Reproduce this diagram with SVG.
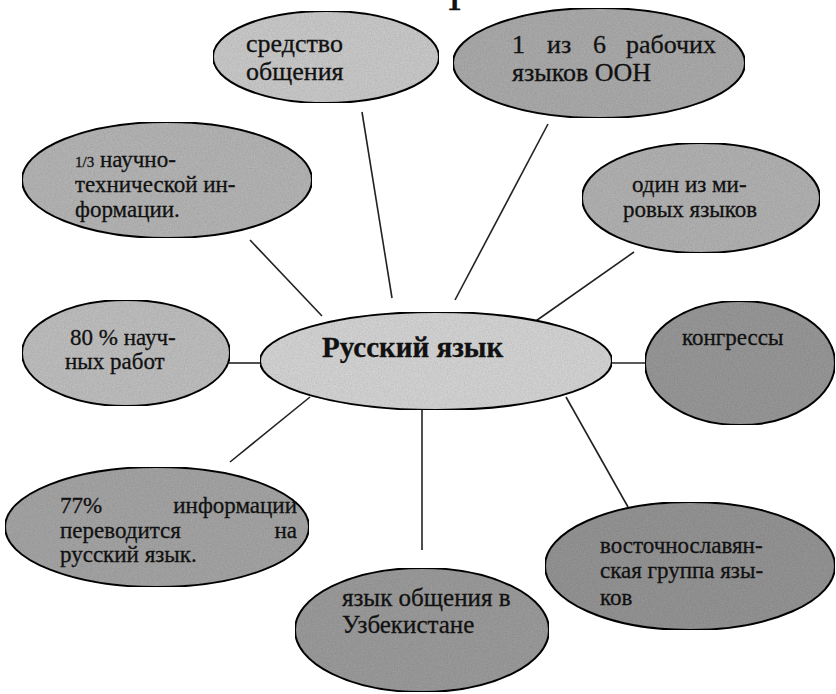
<svg xmlns="http://www.w3.org/2000/svg" width="836" height="694" viewBox="0 0 836 694">
<style>
  .bg { fill: #ffffff; }
  .node ellipse { stroke: #111; stroke-width: 2; }
  .t { font-family: 'Liberation Serif', 'DejaVu Serif', serif; font-size: 23px; fill: #111; stroke: #111; stroke-width: 0.3; }
  .big { font-size: 26px; }
  .mid { font-size: 25px; }
  .small { font-size: 15px; }
  .main { font-size: 29px; font-weight: bold; }
  .conn line { stroke: #222; stroke-width: 1.6; }
</style>
<defs>
  <filter id="grain" x="0" y="0" width="1" height="1">
    <feTurbulence type="fractalNoise" baseFrequency="0.7" numOctaves="3" seed="4" result="n"/>
    <feColorMatrix in="n" type="matrix" values="0 0 0 0 0  0 0 0 0 0  0 0 0 0 0  0 0 0 0.3 -0.05" result="a"/>
    <feComposite in="a" in2="SourceGraphic" operator="in" result="d"/>
    <feMerge><feMergeNode in="SourceGraphic"/><feMergeNode in="d"/></feMerge>
  </filter>
</defs>
<rect class="bg" x="0" y="0" width="836" height="694"/>
<text class="t main" x="447" y="10">1</text>

<g id="connectors" class="conn">
  <line x1="362" y1="112" x2="392" y2="298"/>
  <line x1="548" y1="124" x2="455" y2="300"/>
  <line x1="250" y1="240" x2="322" y2="316"/>
  <line x1="634" y1="252" x2="533" y2="323"/>
  <line x1="229" y1="363" x2="261" y2="363"/>
  <line x1="611" y1="363" x2="646" y2="363"/>
  <line x1="230" y1="462" x2="310" y2="397"/>
  <line x1="422" y1="410" x2="422" y2="550"/>
  <line x1="566" y1="397" x2="628" y2="507"/>
</g>

<g id="n-sredstvo" class="node">
  <ellipse cx="326" cy="57" rx="113" ry="46" fill="#cbcbcb" filter="url(#grain)"/>
  <text class="t big" x="246" y="52">средство</text>
  <text class="t big" x="246" y="80">общения</text>
</g>

<g id="n-oon" class="node">
  <ellipse cx="599" cy="63" rx="146" ry="55" fill="#acacac" filter="url(#grain)"/>
  <text class="t big" x="512" y="53">1</text>
  <text class="t big" x="547" y="53">из</text>
  <text class="t big" x="593" y="53">6</text>
  <text class="t big" x="716" y="53" text-anchor="end">рабочих</text>
  <text class="t big" x="512" y="81">языков ООН</text>
</g>

<g id="n-nauchno" class="node">
  <ellipse cx="167" cy="180" rx="145" ry="58" fill="#b6b6b6" filter="url(#grain)"/>
  <text class="t" x="75" y="167"><tspan class="small">1/3</tspan> научно-</text>
  <text class="t" x="75" y="192">технической ин-</text>
  <text class="t" x="75" y="217">формации.</text>
</g>

<g id="n-mirovyh" class="node">
  <ellipse cx="701" cy="198" rx="119" ry="55" fill="#b3b3b3" filter="url(#grain)"/>
  <text class="t" x="632" y="192">один из ми-</text>
  <text class="t" x="623" y="217">ровых языков</text>
</g>

<g id="n-80" class="node">
  <ellipse cx="126" cy="353" rx="104" ry="53" fill="#c0c0c0" filter="url(#grain)"/>
  <text class="t" x="70" y="345">80 % науч-</text>
  <text class="t" x="65" y="369">ных работ</text>
</g>

<g id="n-center" class="node">
  <ellipse cx="436" cy="361" rx="176" ry="49" fill="#d6d6d6" filter="url(#grain)"/>
  <text class="t main" x="322" y="357">Русский язык</text>
</g>

<g id="n-kongressy" class="node">
  <ellipse cx="740" cy="363" rx="95" ry="62" fill="#999999" filter="url(#grain)"/>
  <text class="t" x="682" y="345">конгрессы</text>
</g>

<g id="n-77" class="node">
  <ellipse cx="157" cy="527" rx="152" ry="60" fill="#a6a6a6" filter="url(#grain)"/>
  <text class="t" x="60" y="513">77%</text>
  <text class="t" x="297" y="513" text-anchor="end">информации</text>
  <text class="t" x="60" y="538">переводится</text>
  <text class="t" x="297" y="538" text-anchor="end">на</text>
  <text class="t" x="60" y="562">русский язык.</text>
</g>

<g id="n-uzbek" class="node">
  <ellipse cx="422" cy="630" rx="127" ry="62" fill="#9c9c9c" filter="url(#grain)"/>
  <text class="t mid" x="342" y="606">язык общения в</text>
  <text class="t mid" x="342" y="633">Узбекистане</text>
</g>

<g id="n-vostochno" class="node">
  <ellipse cx="690" cy="566" rx="145" ry="64" fill="#959595" filter="url(#grain)"/>
  <text class="t" x="600" y="553">восточнославян-</text>
  <text class="t" x="600" y="578">ская группа язы-</text>
  <text class="t" x="600" y="605">ков</text>
</g>
</svg>
